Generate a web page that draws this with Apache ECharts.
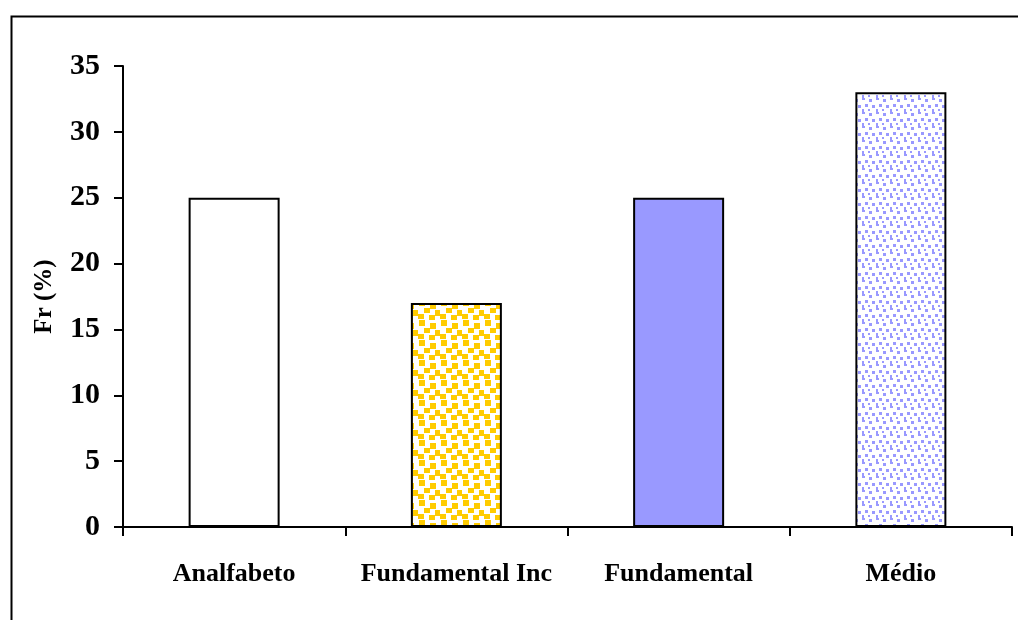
<!DOCTYPE html>
<html>
<head>
<meta charset="utf-8">
<script src="https://cdn.jsdelivr.net/npm/echarts@6/dist/echarts.min.js"></script>
<style>
  html, body { margin: 0; padding: 0; background: #fff; }
  #chart { width: 1018px; height: 620px; }
</style>
</head>
<body>
<div id="chart"></div>
<script>
// Escolaridade — frequência relativa (%)
const categories = ['Analfabeto', 'Fundamental Inc', 'Fundamental', 'Médio'];
const values = [25, 17, 25, 33];
const yTicks = [0, 5, 10, 15, 20, 25, 30, 35];

// Fill tiles for the patterned bars
function confettiTile() {
  const c = document.createElement('canvas');
  c.width = 22; c.height = 20;
  const g = c.getContext('2d');
  g.fillStyle = '#ffffff'; g.fillRect(0, 0, 22, 20);
  g.fillStyle = '#FFCC00';
  const sq = [[1, 0, 6, 6], [12, 3, 6, 6], [6, 8, 6, 5], [17, 10, 5, 6], [0, 14, 6, 5], [11, 15, 6, 5]];
  sq.forEach(s => g.fillRect(s[0], s[1], s[2], s[3]));
  return c;
}
function dotsTile() {
  const c = document.createElement('canvas');
  c.width = 14; c.height = 14;
  const g = c.getContext('2d');
  g.fillStyle = '#ffffff'; g.fillRect(0, 0, 14, 14);
  g.fillStyle = '#9999FF';
  const d = [[1, 1, 3, 3], [8, 0, 3, 2], [4, 7, 3, 3], [11, 6, 3, 3], [0, 11, 2, 2], [8, 11, 2, 3]];
  d.forEach(s => g.fillRect(s[0], s[1], s[2], s[3]));
  return c;
}

const fills = [
  '#ffffff',
  { image: confettiTile(), repeat: 'repeat' },
  '#9999FF',
  { image: dotsTile(), repeat: 'repeat' }
];

const chart = echarts.init(document.getElementById('chart'), null, { renderer: 'canvas' });
const font = '"Liberation Serif", "Times New Roman", serif';

chart.setOption({
  animation: false,
  backgroundColor: '#ffffff',
  graphic: [{
    type: 'rect',
    left: 9, top: 14,
    shape: { width: 1030, height: 640 },
    style: { fill: 'none', stroke: '#000', lineWidth: 2 },
    silent: true
  }],
  grid: { left: 123, right: 6, top: 66, bottom: 93, containLabel: false },
  xAxis: {
    type: 'category',
    data: categories,
    axisLine: { lineStyle: { color: '#000', width: 2 } },
    axisTick: { show: true, interval: 0, alignWithLabel: false, length: 9, lineStyle: { color: '#000', width: 2 } },
    axisLabel: { interval: 0, color: '#000', fontFamily: font, fontWeight: 'bold', fontSize: 26, margin: 34 }
  },
  yAxis: {
    type: 'value',
    min: yTicks[0],
    max: yTicks[yTicks.length - 1],
    interval: 5,
    name: 'Fr (%)',
    nameLocation: 'middle',
    nameGap: 66,
    nameTextStyle: { color: '#000', fontFamily: font, fontWeight: 'bold', fontSize: 25 },
    axisLine: { show: true, lineStyle: { color: '#000', width: 2 } },
    axisTick: { show: true, length: 9, lineStyle: { color: '#000', width: 2 } },
    splitLine: { show: false },
    axisLabel: { color: '#000', fontFamily: font, fontWeight: 'bold', fontSize: 30, margin: 23 }
  },
  series: [{
    type: 'bar',
    data: values.map((v, i) => ({ value: v, itemStyle: { color: fills[i] } })),
    barWidth: 91,
    itemStyle: { borderColor: '#000', borderWidth: 2 },
    silent: true
  }]
});
</script>
</body>
</html>
